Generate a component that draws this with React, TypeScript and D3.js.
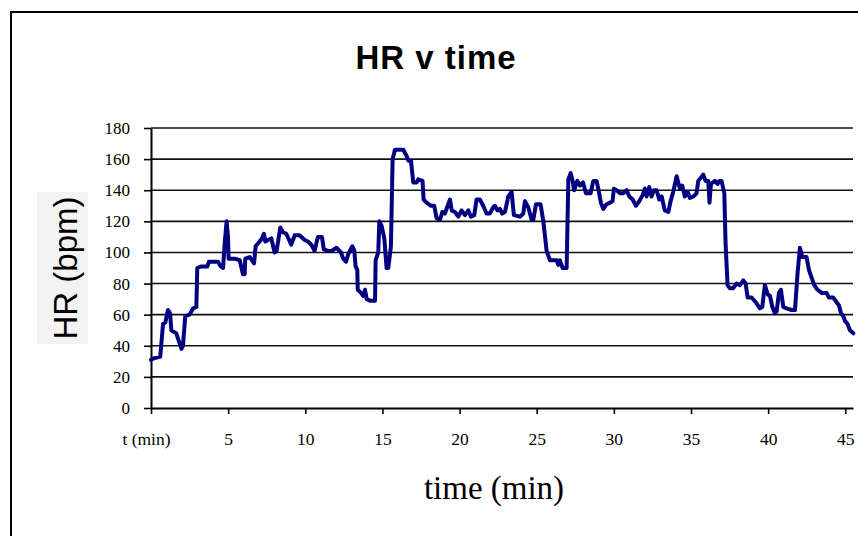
import React, { useRef, useEffect } from 'react';
import * as d3 from 'd3';

// time (min)
const minutes = [
  0, 0.2, 0.6, 0.78, 0.93, 1.1, 1.23, 1.32, 1.64, 1.97, 2.07, 2.22, 2.5, 2.72, 2.94,
  3.0, 3.26, 3.65, 3.76, 4.34, 4.52, 4.67, 4.77, 4.9, 4.99, 5.03, 5.42, 5.75, 5.96, 6.07,
  6.11, 6.4, 6.68, 6.78, 7.04, 7.19, 7.32, 7.41, 7.58, 7.8, 8.01, 8.14, 8.38, 8.55, 8.77,
  9.09, 9.31, 9.63, 9.96, 10.17, 10.39, 10.6, 10.82, 11.08, 11.2, 11.47, 11.7, 12.03, 12.31,
  12.46, 12.64, 12.79, 13.05, 13.18, 13.26, 13.37, 13.4, 13.61, 13.76, 13.87, 13.98, 14.19,
  14.52, 14.56, 14.73, 14.8, 14.95, 15.12, 15.27, 15.38, 15.55, 15.66, 15.81, 16.35, 16.57,
  16.68, 16.85, 17.0, 17.22, 17.32, 17.6, 17.67, 17.86, 18.15, 18.36, 18.51, 18.73, 18.88,
  19.05, 19.23, 19.38, 19.49, 19.7, 19.92, 20.13, 20.35, 20.57, 20.74, 20.95, 21.1, 21.32,
  21.53, 21.75, 21.96, 22.18, 22.29, 22.46, 22.61, 22.76, 22.94, 23.16, 23.37, 23.52, 23.91,
  24.13, 24.24, 24.45, 24.67, 24.78, 24.95, 25.25, 25.43, 25.64, 25.86, 26.29, 26.4, 26.5,
  26.68, 26.94, 27.05, 27.2, 27.33, 27.42, 27.63, 27.8, 28.0, 28.19, 28.49, 28.67, 28.88,
  28.99, 29.16, 29.32, 29.53, 29.75, 29.92, 30.0, 30.18, 30.4, 30.61, 30.83, 31.0, 31.22,
  31.43, 31.65, 31.87, 32.01, 32.12, 32.3, 32.44, 32.6, 32.77, 32.94, 33.1, 33.3, 33.53,
  33.68, 33.85, 34.07, 34.28, 34.43, 34.6, 34.78, 34.93, 35.15, 35.36, 35.47, 35.79, 35.95,
  36.12, 36.2, 36.29, 36.55, 36.72, 36.83, 36.98, 37.16, 37.24, 37.37, 37.52, 37.74, 37.95,
  38.17, 38.39, 38.54, 38.67, 38.93, 39.19, 39.47, 39.62, 39.79, 39.97, 40.12, 40.27, 40.44,
  40.55, 40.7, 40.83, 40.98, 41.2, 41.52, 41.74, 41.91, 42.06, 42.21, 42.49, 42.64, 42.81,
  42.99, 43.2, 43.46, 43.79, 43.94, 44.22, 44.44, 44.59, 44.72, 44.87, 44.98, 45.15, 45.3,
  45.52,
];

// heart rate (bpm) at each of those times
const heartRate = [
  31, 32, 33, 54, 55, 63, 61, 50, 48, 38, 40, 59, 60, 64, 65,
  90, 91, 91, 94, 94, 91, 90, 105, 120, 110, 96, 96, 95, 86, 86,
  96, 97, 93, 104, 107, 109, 112, 107, 108, 109, 100, 101, 116, 113, 112,
  105, 111, 111, 108, 107, 105, 101, 110, 110, 102, 101, 101, 103, 100,
  96, 94, 99, 104, 101, 91, 89, 76, 74, 72, 76, 70, 69,
  69, 95, 100, 120, 117, 109, 90, 90, 104, 160, 166, 166, 162,
  159, 159, 145, 145, 147, 146, 134, 132, 130, 130, 122, 121, 126,
  125, 130, 134, 127, 126, 123, 127, 124, 127, 123, 124, 134, 134,
  130, 125, 125, 129, 130, 127, 128, 125, 126, 136, 139, 124, 123,
  125, 133, 129, 121, 121, 131, 131, 120, 101, 95, 95, 92, 95,
  90, 90, 147, 151, 146, 140, 146, 143, 145, 138, 138, 146, 146,
  141, 132, 128, 131, 132, 133, 141, 140, 138, 138, 140, 136, 134,
  130, 133, 137, 141, 136, 142, 136, 140, 140, 134, 136, 127, 126,
  133, 139, 149, 141, 143, 136, 139, 135, 136, 138, 146, 150, 146,
  146, 132, 144, 146, 144, 146, 146, 138, 106, 79, 77, 77, 80,
  79, 82, 80, 71, 71, 68, 64, 65, 79, 73, 72, 65, 61,
  62, 74, 76, 65, 64, 63, 63, 87, 103, 97, 97, 89, 84,
  79, 76, 74, 74, 71, 71, 68, 66, 61, 59, 56, 54, 50,
  48,
];

const xTicks = [0, 5, 10, 15, 20, 25, 30, 35, 40, 45];
const xTickLabels = ['t (min)', '5', '10', '15', '20', '25', '30', '35', '40', '45'];
const yTicks = [0, 20, 40, 60, 80, 100, 120, 140, 160, 180];

const W = 858;
const H = 536;
const margin = { left: 151, right: 5, top: 128, bottom: 128 };

const App = () => {
  const svgRef = useRef<SVGSVGElement>(null);

  useEffect(() => {
    const svg = d3.select(svgRef.current);
    svg.selectAll('*').remove();

    const x = d3.scaleLinear().domain([0, 45.5]).range([margin.left, W - margin.right]);
    const y = d3.scaleLinear().domain([0, 180]).range([H - margin.bottom, margin.top]);

    // outer chart frame (runs off the right and bottom of the picture)
    svg.append('rect')
      .attr('x', 11).attr('y', 12)
      .attr('width', 1000).attr('height', 800)
      .attr('fill', '#fff')
      .attr('stroke', '#000')
      .attr('stroke-width', 2);

    svg.append('text')
      .attr('x', 436).attr('y', 69)
      .attr('text-anchor', 'middle')
      .style('font-family', '"Liberation Sans", Arial, sans-serif')
      .style('font-weight', 'bold')
      .style('font-size', '33px')
      .style('letter-spacing', '1px')
      .text('HR v time');

    // gridlines
    svg.append('g')
      .selectAll('line')
      .data(yTicks.slice(1))
      .enter().append('line')
      .attr('x1', x(0)).attr('x2', x(45.5))
      .attr('y1', d => y(d)).attr('y2', d => y(d))
      .attr('stroke', '#111')
      .attr('stroke-width', 1.6);

    const yAxis = svg.append('g')
      .attr('transform', `translate(${x(0)},0)`)
      .call(d3.axisLeft(y).tickValues(yTicks).tickSize(7).tickPadding(14).tickSizeOuter(0));
    yAxis.select('.domain').attr('stroke-width', 2);
    yAxis.selectAll('.tick line').attr('stroke-width', 1.6);
    yAxis.selectAll('text')
      .style('font-family', '"Liberation Serif", "Times New Roman", serif')
      .style('font-size', '17px')
      .attr('fill', '#000');

    const xAxis = svg.append('g')
      .attr('transform', `translate(0,${y(0)})`)
      .call(d3.axisBottom(x)
        .tickValues(xTicks)
        .tickFormat((d, i) => xTickLabels[i])
        .tickSize(6).tickPadding(19).tickSizeOuter(0));
    xAxis.select('.domain').attr('stroke-width', 2);
    xAxis.selectAll('.tick line').attr('stroke-width', 1.6);
    xAxis.selectAll('text')
      .style('font-family', '"Liberation Serif", "Times New Roman", serif')
      .style('font-size', '17.5px')
      .attr('fill', '#000');
    // the first label sits a touch left of its tick
    xAxis.select('.tick text').attr('dx', '-5');

    const line = d3.line<number>()
      .x((d, i) => x(minutes[i]))
      .y(d => y(d));

    svg.append('path')
      .datum(heartRate)
      .attr('d', line)
      .attr('fill', 'none')
      .attr('stroke', '#000080')
      .attr('stroke-width', 4)
      .attr('stroke-linejoin', 'round')
      .attr('stroke-linecap', 'round');

    // y title on its grey box
    svg.append('rect')
      .attr('x', 37).attr('y', 192)
      .attr('width', 51).attr('height', 152)
      .attr('fill', '#f3f3f3');
    svg.append('text')
      .attr('transform', 'translate(77,268) rotate(-90)')
      .attr('text-anchor', 'middle')
      .style('font-family', '"Liberation Sans", Arial, sans-serif')
      .style('font-size', '33px')
      .text('HR (bpm)');

    svg.append('text')
      .attr('x', 494).attr('y', 499)
      .attr('text-anchor', 'middle')
      .style('font-family', '"Liberation Serif", "Times New Roman", serif')
      .style('font-size', '33px')
      .text('time (min)');
  }, []);

  return (
    <svg
      ref={svgRef}
      width={W}
      height={H}
      style={{ position: 'absolute', left: 0, top: 0, background: '#fff' }}
    />
  );
};

export default App;
